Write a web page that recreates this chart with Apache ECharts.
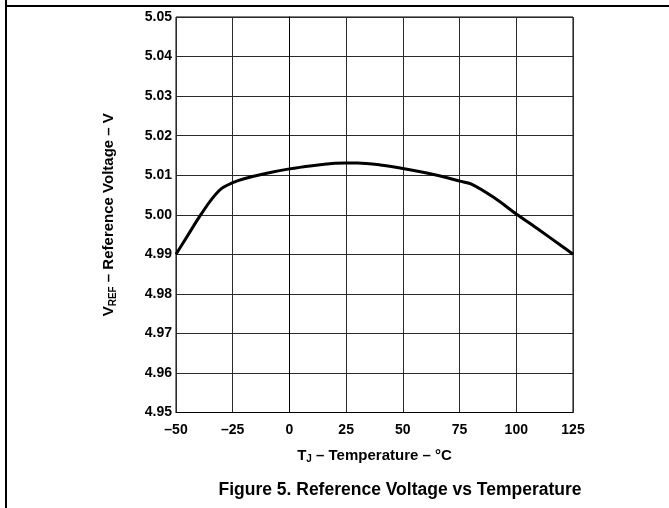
<!DOCTYPE html>
<html>
<head>
<meta charset="utf-8">
<script src="https://cdn.jsdelivr.net/npm/echarts@6/dist/echarts.min.js"></script>
<style>
html,body{margin:0;padding:0;background:#fff;}
#chart{width:669px;height:508px;}
</style>
</head>
<body>
<div id="chart"></div>
<script>
var temperatures = [-50, -45, -40, -35, -30, -25, -20, -10, 0, 10, 20, 25, 30, 40, 50, 60, 70, 75, 80, 90, 100, 110, 120, 125];
var vref = [4.990, 4.9946, 4.9992, 5.0034, 5.0066, 5.0081, 5.0091, 5.0105, 5.0116, 5.0124, 5.0130, 5.0131, 5.0131, 5.0126, 5.0117, 5.0106, 5.0093, 5.0085, 5.0078, 5.0044, 5.0002, 4.9962, 4.9921, 4.990];
var xTicks = ['–50', '–25', '0', '25', '50', '75', '100', '125'];
var yTicks = ['4.95','4.96','4.97','4.98','4.99','5.00','5.01','5.02','5.03','5.04','5.05'];
var titleText = 'Figure 5. Reference Voltage vs Temperature';

var FONT = '"Liberation Sans", Arial, Helvetica, sans-serif';
var chart = echarts.init(document.getElementById('chart'), null, {renderer: 'canvas'});

var richName = {
  m: {fontFamily: FONT, fontWeight: 'bold', fontSize: 15, color: '#000', lineHeight: 18, verticalAlign: 'middle'},
  s: {fontFamily: FONT, fontWeight: 'bold', fontSize: 10, color: '#000', lineHeight: 10, verticalAlign: 'bottom'}
};

var data = temperatures.map(function (t, i) { return [t, vref[i]]; });

chart.setOption({
  animation: false,
  backgroundColor: '#fff',
  grid: {left: 176, right: 96, top: 17, bottom: 95.5, show: true, borderColor: '#000', borderWidth: 1},
  xAxis: {
    type: 'value', min: -50, max: 125, interval: 25,
    axisLine: {show: true, lineStyle: {color: '#000', width: 1}},
    axisTick: {show: false},
    splitLine: {show: true, lineStyle: {color: '#2a2a2a', width: 1}},
    axisLabel: {
      margin: 11, color: '#000', fontFamily: FONT, fontWeight: 'bold', fontSize: 14,
      formatter: function (v) { var i = Math.round((v + 50) / 25); return xTicks[i] || ''; }
    },
    name: '{m|T}{s|J}{m| – Temperature – °C}',
    nameLocation: 'middle', nameGap: 34,
    nameTextStyle: {rich: richName}
  },
  yAxis: {
    type: 'value', min: 4.95, max: 5.05, interval: 0.01,
    axisLine: {show: true, lineStyle: {color: '#000', width: 1}},
    axisTick: {show: false},
    splitLine: {show: true, lineStyle: {color: '#2a2a2a', width: 1}},
    axisLabel: {
      margin: 4, color: '#000', fontFamily: FONT, fontWeight: 'bold', fontSize: 14,
      formatter: function (v) { var i = Math.round((v - 4.95) / 0.01); return yTicks[i] || ''; }
    },
    name: '{m|V}{s|REF}{m| – Reference Voltage – V}',
    nameLocation: 'middle', nameGap: 58,
    nameTextStyle: {rich: richName}
  },
  series: [{
    type: 'line', data: data, smooth: 0.3, showSymbol: false,
    lineStyle: {color: '#000', width: 3}, z: 5
  }],
  graphic: [
    {type: 'line', shape: {x1: 5, y1: 6, x2: 669, y2: 6}, style: {stroke: '#000', lineWidth: 2}},
    {type: 'line', shape: {x1: 6, y1: 0, x2: 6, y2: 508}, style: {stroke: '#000', lineWidth: 2}},
    {type: 'text', x: 400, y: 490, style: {text: titleText, fill: '#000', font: 'bold 17.5px ' + FONT, textAlign: 'center', textVerticalAlign: 'middle'}}
  ]
});
</script>
</body>
</html>
